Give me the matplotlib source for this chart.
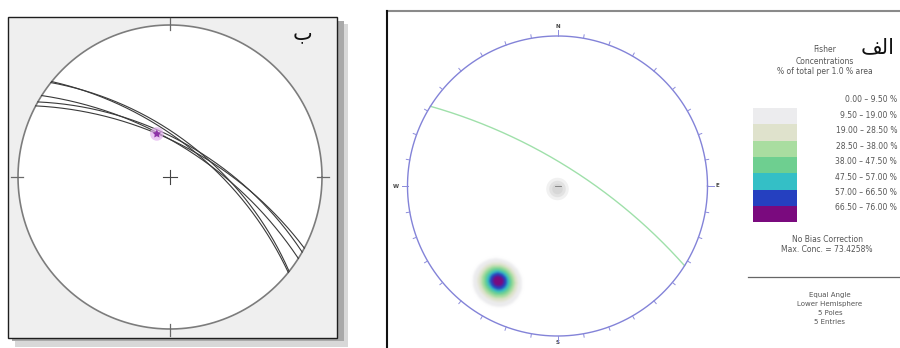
import numpy as np
import matplotlib
matplotlib.use("Agg")
import matplotlib.pyplot as plt
from matplotlib.patches import Rectangle
from matplotlib.colors import to_rgb

W, H = 900, 348

# --- panel "ب": measured planes (right-hand-rule strike, dip) ---
plane_strikes = [297.9, 299.6, 302.4, 308.4, 308.9]
plane_dips = [65, 63, 66, 62, 64]
# intersection cluster of the planes (trend, plunge)
cluster_trend = [343.0]
cluster_plunge = [57.0]

# --- panel "الف": poles to the planes (trend, plunge) ---
pole_trends = [208.5, 215.5, 209.5, 215.0, 212.0]
pole_plunges = [14.0, 14.5, 18.5, 18.0, 16.2]

# Fisher concentration classes (% of total per 1.0 % area)
conc_levels = [0.0, 9.5, 19.0, 28.5, 38.0, 47.5, 57.0, 66.5, 76.0]
conc_labels = ["0.00 \u2013 9.50 %", "9.50 \u2013 19.00 %", "19.00 \u2013 28.50 %",
               "28.50 \u2013 38.00 %", "38.00 \u2013 47.50 %", "47.50 \u2013 57.00 %",
               "57.00 \u2013 66.50 %", "66.50 \u2013 76.00 %"]
conc_colors = ["#ffffff", "#ececee", "#dfe2cc", "#a9dda0", "#6ecf90",
               "#34bfc6", "#2540c0", "#7a0a7e"]
max_conc = 73.4258
fisher_k = 115.0

TXT = "#555555"
FS = 5.5


def project(trend, plunge):
    """Equal-angle (stereographic) lower-hemisphere projection."""
    t = np.radians(trend)
    p = np.radians(plunge)
    r = np.tan((np.pi / 2 - p) / 2)
    return r * np.sin(t), r * np.cos(t)


def great_circle(strike, dip, n=300):
    s = np.radians(strike)
    d = np.radians(dip)
    dd = s + np.pi / 2
    sv = np.array([np.sin(s), np.cos(s), 0.0])
    dv = np.array([np.sin(dd) * np.cos(d), np.cos(dd) * np.cos(d), -np.sin(d)])
    th = np.linspace(0, np.pi, n)
    v = np.outer(np.cos(th), sv) + np.outer(np.sin(th), dv)
    trend = np.degrees(np.arctan2(v[:, 0], v[:, 1]))
    plunge = np.degrees(np.arcsin(np.clip(-v[:, 2], -1, 1)))
    return project(trend, plunge)


def unit_vec(trend, plunge):
    t = np.radians(trend)
    p = np.radians(plunge)
    return np.stack([np.cos(p) * np.sin(t), np.cos(p) * np.cos(t), np.sin(p)], axis=-1)


def smooth(img, sigma):
    """Separable gaussian smoothing along the first two axes."""
    r = int(3 * sigma) + 1
    x = np.arange(-r, r + 1)
    k = np.exp(-x ** 2 / (2 * sigma ** 2))
    k /= k.sum()
    out = np.apply_along_axis(lambda m: np.convolve(m, k, mode="same"), 0, img)
    out = np.apply_along_axis(lambda m: np.convolve(m, k, mode="same"), 1, out)
    return out


fig = plt.figure(figsize=(W / 100, H / 100), dpi=100)
bg = fig.add_axes([0, 0, 1, 1])
bg.set_xlim(0, W)
bg.set_ylim(H, 0)
bg.axis("off")


def circle_axes(cx, cy, R, lim=1.25):
    w = 2 * lim * R
    ax = fig.add_axes([(cx - lim * R) / W, (H - cy - lim * R) / H, w / W, w / H])
    ax.set_xlim(-lim, lim)
    ax.set_ylim(-lim, lim)
    ax.axis("off")
    ax.patch.set_alpha(0)
    return ax


# ---------------- left panel frame ----------------
bg.add_patch(Rectangle((15, 24), 333, 323, facecolor="#d8d8d8", edgecolor="none"))
bg.add_patch(Rectangle((12, 21), 332, 320, facecolor="#a9a9a9", edgecolor="none"))
bg.add_patch(Rectangle((8, 17), 329, 321, facecolor="#efefef", edgecolor="#1e1e1e", lw=1.0))

axL = circle_axes(170, 177, 152)
phi = np.linspace(0, 2 * np.pi, 400)
axL.fill(np.cos(phi), np.sin(phi), color="white", zorder=1)
axL.plot(np.cos(phi), np.sin(phi), color="#7c7c7c", lw=1.2, zorder=3)
for a in (0, 90, 180, 270):
    ar = np.radians(a)
    r0, r1 = 1 - 5 / 152, 1 + 7 / 152
    axL.plot([r0 * np.sin(ar), r1 * np.sin(ar)], [r0 * np.cos(ar), r1 * np.cos(ar)],
             color="#6a6a6a", lw=0.9, zorder=3)
c = 7 / 152
axL.plot([-c, c], [0, 0], color="#444444", lw=0.8, zorder=3)
axL.plot([0, 0], [-c, c], color="#444444", lw=0.8, zorder=3)
for s, d in zip(plane_strikes, plane_dips):
    gx, gy = great_circle(s, d)
    axL.plot(gx, gy, color="#3a3a3a", lw=0.8, zorder=4)
cx_, cy_ = project(np.array(cluster_trend), np.array(cluster_plunge))
axL.scatter(cx_, cy_, s=95, color="#e2b0ee", alpha=0.7, edgecolors="none", zorder=5)
axL.scatter(cx_, cy_, s=40, marker=(5, 1), color="#8e32a8", edgecolors="none", zorder=6)

bg.text(303, 33, "\u0628", fontsize=15, color="#111111", ha="center", va="center",
        family="DejaVu Sans")

# ---------------- right panel frame ----------------
bg.plot([387, W], [11, 11], color="#8a8a8a", lw=1.5)
bg.plot([387, 387], [11, H], color="#111111", lw=1.5)

axR = circle_axes(557.5, 186, 150)
# density of poles (Fisher kernel), scaled so its peak equals max_conc
g = np.linspace(-1, 1, 401)
X, Y = np.meshgrid(g, g)
R = np.hypot(X, Y)
gp = 90 - 2 * np.degrees(np.arctan(R))
gt = np.degrees(np.arctan2(X, Y))
gv = unit_vec(gt, gp)
pv = unit_vec(np.array(pole_trends), np.array(pole_plunges))
dens = np.zeros_like(X)
for v in pv:
    dens += np.exp(fisher_k * (gv @ v - 1))
dens = dens / dens.max() * max_conc

# classify into the concentration bands, then soften the band edges slightly
cls = np.clip(np.digitize(dens, conc_levels) - 1, 0, len(conc_colors) - 1)
pal = np.array([to_rgb(cc) for cc in conc_colors])
rgba = np.ones(X.shape + (4,))
rgba[..., :3] = pal[cls]
rgba[..., 3] = (cls > 0).astype(float)
rgba[..., :3] *= rgba[..., 3:4]
rgba = smooth(rgba, 1.6)
a = np.clip(rgba[..., 3:4], 1e-6, 1)
rgba[..., :3] = np.clip(rgba[..., :3] / a, 0, 1)
rgba[R > 1, 3] = 0
axR.imshow(rgba, extent=(-1, 1, -1, 1), origin="lower", interpolation="bilinear",
           zorder=2)

# light smudge at the centre of the net
for rr, al in [(0.075, 0.25), (0.055, 0.35), (0.035, 0.4)]:
    axR.fill(rr * np.cos(phi), rr * np.sin(phi) - 0.02, color="#c8c8c8", alpha=al,
             lw=0, zorder=2)
axR.plot([-0.015, 0.025], [0.0, 0.0], color="#777777", lw=0.6, zorder=3)

# mean plane from the mean pole
mv = pv.mean(axis=0)
mv /= np.linalg.norm(mv)
m_trend = np.degrees(np.arctan2(mv[0], mv[1]))
m_plunge = np.degrees(np.arcsin(mv[2]))
mean_dipdir = (m_trend + 180) % 360
gx, gy = great_circle(mean_dipdir - 90, 90 - m_plunge)
axR.plot(gx, gy, color="#9fe0aa", lw=1.0, zorder=3)

axR.plot(np.cos(phi), np.sin(phi), color="#8383d8", lw=1.0, zorder=4)
for a in range(0, 360, 10):
    ar = np.radians(a)
    r1 = 1 + (6 if a % 90 == 0 else 3.5) / 150
    axR.plot([np.sin(ar), r1 * np.sin(ar)], [np.cos(ar), r1 * np.cos(ar)],
             color="#8c8cdc", lw=0.7, zorder=4)
for a, lab, rl in [(0, "N", 10), (90, "E", 10), (180, "S", 6.5), (270, "W", 12)]:
    ar = np.radians(a)
    r = 1 + rl / 150
    axR.text(r * np.sin(ar), r * np.cos(ar), lab, fontsize=4, color="#444444",
             ha="center", va="center", fontweight="bold")

# ---------------- legend ----------------
bg.text(878, 47, "\ufed2\ufedf\u0627", fontsize=15, color="#111111", ha="center",
        va="center", family="DejaVu Sans")
for y, t in [(50, "Fisher"), (61, "Concentrations"), (72, "% of total per 1.0 % area")]:
    bg.text(825, y, t, fontsize=FS, color=TXT, ha="center", va="center")

box_top, box_h = 108, 16.3
for i, col in enumerate(conc_colors[1:]):
    bg.add_patch(Rectangle((753, box_top + i * box_h), 44, box_h, facecolor=col,
                           edgecolor="none"))
for i, lab in enumerate(conc_labels):
    bg.text(897, 100 + i * 15.4, lab, fontsize=FS, color=TXT, ha="right", va="center")

bg.text(827, 240, "No Bias Correction", fontsize=FS, color=TXT, ha="center", va="center")
bg.text(827, 250, "Max. Conc. = %.4f%%" % max_conc, fontsize=FS, color=TXT,
        ha="center", va="center")
bg.plot([748, W], [277, 277], color="#666666", lw=0.9)
for y, t in [(295, "Equal Angle"), (304, "Lower Hemisphere"),
             (313, "%d Poles" % len(pole_trends)), (322, "%d Entries" % len(pole_trends))]:
    bg.text(830, y, t, fontsize=5.0, color=TXT, ha="center", va="center")

fig.savefig("out.png", dpi=100)
